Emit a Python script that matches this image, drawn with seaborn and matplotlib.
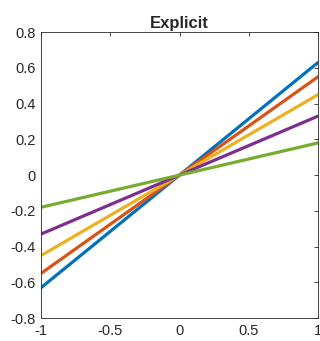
import numpy as np
import pandas as pd
import matplotlib
matplotlib.use("Agg")
import matplotlib.pyplot as plt
import seaborn as sns

x_vals = [-1.0, 0.0, 1.0]
slopes = [0.63, 0.55, 0.45, 0.33, 0.18]
series = ["s1", "s2", "s3", "s4", "s5"]
colors = ["#0072BD", "#D95319", "#EDB120", "#7E2F8E", "#77AC30"]
xticks = [-1, -0.5, 0, 0.5, 1]
xtick_labels = ["-1", "-0.5", "0", "0.5", "1"]
yticks = [-0.8, -0.6, -0.4, -0.2, 0, 0.2, 0.4, 0.6, 0.8]
ytick_labels = ["-0.8", "-0.6", "-0.4", "-0.2", "0", "0.2", "0.4", "0.6", "0.8"]

rows = []
for name, k in zip(series, slopes):
    for xv in x_vals:
        rows.append({"x": xv, "y": k * xv, "series": name})
df = pd.DataFrame(rows)

sns.set_style("white")
plt.rcParams['font.family'] = ['Liberation Sans', 'DejaVu Sans']

fig = plt.figure(figsize=(3.2, 3.41), dpi=100)
ax = fig.add_axes([0.128, 0.067, 0.866, 0.839])
sns.lineplot(data=df, x="x", y="y", hue="series", palette=colors,
             linewidth=2.3, legend=False, ax=ax, sort=False)

ax.set_xlim(-1, 1)
ax.set_ylim(-0.8, 0.8)
ax.set_xticks(xticks)
ax.set_xticklabels(xtick_labels)
ax.set_yticks(yticks)
ax.set_yticklabels(ytick_labels)
ax.set_xlabel("")
ax.set_ylabel("")
ax.set_title("Explicit", fontsize=12, fontweight="bold", pad=3)
ax.tick_params(direction="in", length=3, width=0.6, labelsize=10.5, colors="#262626",
               top=True, right=True, labelcolor="#262626", pad=4)
for s in ax.spines.values():
    s.set_visible(True)
    s.set_color("#262626")
    s.set_linewidth(0.6)

fig.savefig("out.png", dpi=100)
